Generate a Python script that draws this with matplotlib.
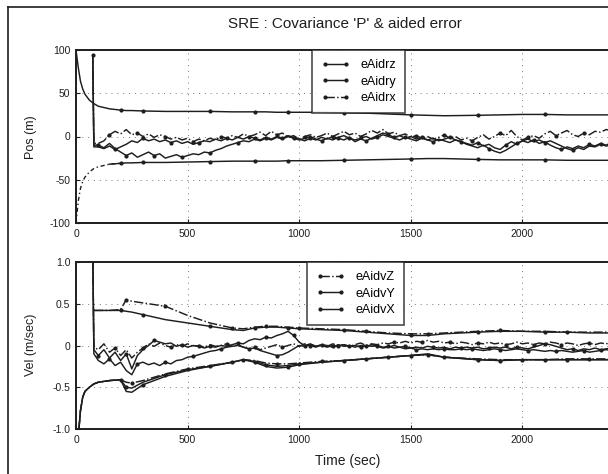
import numpy as np
import matplotlib
matplotlib.use('Agg')
import matplotlib.pyplot as plt
from matplotlib.lines import Line2D

plt.rcParams['font.family'] = ['Liberation Sans', 'DejaVu Sans']
plt.rcParams['axes.unicode_minus'] = False

# time base of the covariance envelopes (sec)
t_sig = [0, 10, 20, 30, 40, 60, 80, 100, 150, 200, 225, 250, 300, 400, 500, 600,
         700, 750, 800, 850, 900, 950, 1000, 1100, 1200, 1300, 1400, 1500, 1575,
         1650, 1800, 1900, 2000, 2100, 2200, 2300, 2400]

# position sigma envelopes (m)
pos_up = [100, 80, 64, 55, 49, 42, 38, 35, 32, 30.5, 30, 30, 29.5, 29, 29, 29,
          28.5, 28.5, 28.5, 28.5, 28, 28, 28, 28, 27.5, 27, 26, 25, 24.5,
          24, 24.5, 25, 25.5, 25.5, 25, 25, 25]
pos_lo = [-100, -75, -60, -52, -47, -41, -37, -35, -32, -31, -30.5, -30.5, -30, -30, -29.5, -29,
          -28.5, -28.5, -28.5, -28.5, -28.5, -28, -28, -28, -27.5, -27, -26.5, -26, -25.5,
          -25.5, -26.5, -27, -27, -27, -27.5, -27.5, -27.5]

# velocity sigma envelopes (m/sec)
nan = np.nan
vel_up_xy = [nan, nan, nan, nan, nan, nan, 0.42, 0.42, 0.42, 0.42, 0.41, 0.40, 0.37, 0.31, 0.27, 0.23,
             0.19, 0.18, 0.21, 0.22, 0.22, 0.21, 0.20, 0.19, 0.18, 0.16, 0.14, 0.12, 0.12,
             0.14, 0.16, 0.17, 0.17, 0.16, 0.16, 0.15, 0.15]
vel_up_z = [nan, nan, nan, nan, nan, nan, 0.42, 0.42, 0.42, 0.43, 0.55, 0.53, 0.51, 0.47, 0.36, 0.27,
            0.21, 0.20, 0.22, 0.23, 0.23, 0.22, 0.21, 0.20, 0.19, 0.17, 0.15, 0.14, 0.14,
            0.15, 0.17, 0.18, 0.17, 0.17, 0.16, 0.16, 0.16]
vel_lo_x = [-1.6, -1.1, -0.78, -0.62, -0.55, -0.50, -0.46, -0.44, -0.42, -0.41, -0.55, -0.56, -0.47, -0.37, -0.30, -0.25,
            -0.20, -0.17, -0.20, -0.25, -0.27, -0.26, -0.23, -0.20, -0.18, -0.16, -0.14, -0.12, -0.10,
            -0.14, -0.17, -0.18, -0.17, -0.17, -0.17, -0.17, -0.17]
vel_lo_y = [-1.6, -1.1, -0.78, -0.62, -0.55, -0.50, -0.46, -0.44, -0.42, -0.41, -0.50, -0.51, -0.44, -0.35, -0.29, -0.25,
            -0.20, -0.17, -0.19, -0.23, -0.25, -0.24, -0.22, -0.20, -0.18, -0.16, -0.14, -0.12, -0.11,
            -0.14, -0.17, -0.18, -0.17, -0.17, -0.17, -0.17, -0.17]
vel_lo_z = [-1.6, -1.1, -0.78, -0.62, -0.55, -0.50, -0.46, -0.44, -0.42, -0.41, -0.44, -0.45, -0.42, -0.34, -0.28, -0.24,
            -0.20, -0.17, -0.18, -0.21, -0.22, -0.22, -0.21, -0.19, -0.18, -0.16, -0.14, -0.12, -0.11,
            -0.14, -0.16, -0.17, -0.17, -0.17, -0.16, -0.16, -0.16]

# aided errors, first sample at 75 s then every 25 s from 100 to 2400
t_err = np.concatenate([[75, 80], np.arange(100, 2401, 25)])

err_rz = [94, -12,
          -12, -14, -11, -15, -12, -9, -5, -7, -2, -5, -3, -6, -4, -7, -5, -8,
          -6, -9, -7, -5, -6, -3, -5, -2, -4, -1, -3, 0, -2, -4, -1, -3,
          0, -2, 1, -1, -3, -5, -2, -4, -1, -3, 0, -2, -4, -1, -6, -3,
          -5, -2, 1, 4, 2, -1, 1, -2, 0, -3, -1, -4, -2, -5, -3, -1,
          -4, -6, -8, -10, -7, -11, -9, -13, -15, -10, -6, -9, -5, -7, -4, -8,
          -6, -10, -13, -15, -12, -14, -11, -13, -9, -11, -8, -10, -7]
err_ry = [94, -10,
          -10, -13, -8, -14, -18, -22, -19, -24, -21, -18, -22, -20, -25, -23, -21, -24,
          -22, -20, -21, -18, -19, -16, -14, -11, -9, -7, -5, -6, -3, -5, -2, -4,
          -1, -3, 0, -2, -4, -2, 0, -3, -5, -2, -4, -1, 1, -2, -4, -2,
          0, -3, -1, 2, 0, -2, -4, -1, -3, -5, -2, -4, -6, -3, -5, -7,
          -4, -6, -9, -11, -13, -10, -14, -17, -19, -16, -12, -8, -5, -3, -6, -4,
          -7, -5, -8, -11, -14, -16, -13, -15, -11, -12, -9, -11, -10]
err_rx = [94, -8,
          -8, -5, 2, 6, 3, 8, 2, 4, 0, 3, -1, 2, 0, -3, -1, -4,
          -2, -6, -3, -5, -2, -4, 0, -2, 1, -1, 3, 0, 2, 5, 1, 6,
          2, 4, -1, 1, -3, 0, 2, -1, 1, 4, 0, 3, 6, 2, 4, 0,
          3, 7, 4, 8, 3, 5, 1, 3, -1, 1, -2, 0, -3, -1, 2, -2,
          0, -4, -2, -5, -1, 2, -3, 0, 4, 1, 7, 0, -4, -1, 1, -2,
          3, 6, 1, 4, 7, 2, 0, 4, 2, 6, 5, 8, 7]

err_vz = [1.2, -0.02,
          -0.05, 0.02, -0.08, -0.03, -0.12, -0.05, -0.15, -0.08, -0.03, 0.02, -0.01, 0.03, 0.0, -0.02, 0.01, -0.01,
          0.02, -0.01, 0.0, -0.02, 0.01, -0.01, 0.0, 0.02, -0.01, 0.01, -0.02, -0.04, -0.02, -0.05, -0.03, -0.01,
          0.01, -0.02, 0.0, 0.02, -0.01, 0.02, 0.0, -0.02, 0.01, -0.01, 0.02, 0.0, 0.01, -0.01, 0.01, 0.03,
          0.0, 0.02, 0.01, 0.03, 0.02, 0.04, 0.03, 0.05, 0.03, 0.05, 0.04, 0.06, 0.04, 0.05, 0.03, 0.04,
          0.02, 0.04, 0.03, 0.01, 0.03, 0.02, 0.04, 0.02, 0.03, 0.01, 0.02, 0.04, 0.02, 0.03, 0.01, 0.03,
          0.02, 0.04, 0.03, 0.01, 0.03, 0.02, 0.0, 0.02, 0.03, 0.01, 0.03, 0.02, 0.04]
err_vy = [1.2, -0.05,
          -0.12, -0.05, -0.15, -0.08, -0.18, -0.10, -0.28, -0.12, -0.05, 0.0, 0.06, 0.04, 0.02, 0.03, -0.01, 0.01,
          -0.02, 0.0, -0.01, -0.03, -0.01, -0.02, 0.0, -0.01, 0.01, 0.03, 0.02, 0.06, 0.08, 0.07, 0.10, 0.09,
          0.12, 0.14, 0.17, 0.12, 0.04, 0.0, 0.02, -0.01, 0.01, 0.0, -0.02, 0.01, -0.01, 0.0, -0.02, 0.0,
          -0.01, 0.01, -0.01, -0.03, -0.02, 0.0, -0.02, -0.01, -0.03, -0.02, -0.03, -0.01, -0.02, -0.03, -0.02, -0.04,
          -0.02, -0.03, -0.02, -0.03, -0.02, -0.04, -0.03, -0.02, -0.03, -0.02, -0.04, -0.02, -0.03, -0.04, -0.02, 0.0,
          0.02, 0.01, -0.01, -0.03, -0.05, -0.04, -0.06, -0.04, -0.05, -0.03, -0.05, -0.04, -0.03]
err_vx = [1.2, -0.10,
          -0.18, -0.22, -0.16, -0.24, -0.20, -0.30, -0.35, -0.22, -0.20, -0.23, -0.21, -0.24, -0.20, -0.22, -0.18, -0.17,
          -0.14, -0.13, -0.11, -0.09, -0.07, -0.06, -0.04, -0.02, -0.01, 0.0, -0.02, -0.04, -0.03, -0.06, -0.08, -0.10,
          -0.12, -0.11, -0.08, -0.04, 0.0, -0.01, 0.01, -0.01, 0.0, -0.02, 0.0, -0.01, 0.01, -0.01, 0.0, -0.02,
          0.0, -0.01, 0.0, -0.02, -0.01, -0.03, -0.02, -0.04, -0.03, -0.05, -0.04, -0.05, -0.04, -0.05, -0.04, -0.05,
          -0.05, -0.04, -0.05, -0.04, -0.05, -0.06, -0.05, -0.04, -0.05, -0.06, -0.05, -0.04, -0.05, -0.06, -0.05, -0.06,
          -0.07, -0.06, -0.07, -0.06, -0.07, -0.08, -0.07, -0.06, -0.08, -0.07, -0.06, -0.05, -0.06]

pos_ticks = [-100, -50, 0, 50, 100]
pos_labels = ['-100', '-50', '0', '50', '100']
vel_ticks = [-1.0, -0.5, 0, 0.5, 1.0]
vel_labels = ['-1.0', '-0.5', '0', '0.5', '1.0']
x_ticks = [0, 500, 1000, 1500, 2000]

W, H = 608, 474
ink = '#1e1e1e'
fig = plt.figure(figsize=(W / 100, H / 100), dpi=100)

# scanned page frame (left and top edges only)
fig.add_artist(Line2D([8 / W, 8 / W], [0, 1 - 7 / H], color=ink, lw=1.2))
fig.add_artist(Line2D([8 / W, 1], [1 - 7 / H, 1 - 7 / H], color=ink, lw=1.2))

# axes run off the right edge of the scan
ax1 = fig.add_axes([76 / W, 1 - 223 / H, 558 / W, 173 / H])
ax2 = fig.add_axes([76 / W, 1 - 429 / H, 558 / W, 167 / H])

sty = dict(color=ink, lw=1.05, marker='.', ms=4)

# position panel
ax1.plot(t_err, err_rz, label='eAidrz', markevery=5, **sty)
ax1.plot(t_err, err_ry, label='eAidry', markevery=(2, 5), **sty)
ax1.plot(t_err, err_rx, label='eAidrx', ls='-.', markevery=(4, 5), **sty)
ax1.plot(t_sig, pos_up, markevery=(9, 3), **sty)
ax1.plot(t_sig[8:], pos_lo[8:], markevery=(1, 3), **sty)
ax1.plot(t_sig[:10], pos_lo[:10], color=ink, lw=1.0, ls=(0, (3, 2, 1, 2)))
ax1.set_ylim(-100, 100)
ax1.set_yticks(pos_ticks)
ax1.set_yticklabels(pos_labels)

# velocity panel
ax2.plot(t_err, err_vz, label='eAidvZ', ls='-.', markevery=5, **sty)
ax2.plot(t_err, err_vy, label='eAidvY', markevery=(2, 5), **sty)
ax2.plot(t_err, err_vx, label='eAidvX', markevery=(4, 5), **sty)
ax2.plot(t_sig, vel_up_xy, markevery=(9, 3), **sty)
ax2.plot(t_sig, vel_up_z, ls='-.', markevery=(10, 3), **sty)
ax2.plot(t_sig, vel_lo_x, markevery=(9, 3), **sty)
ax2.plot(t_sig, vel_lo_y, markevery=(10, 3), **sty)
ax2.plot(t_sig, vel_lo_z, ls='-.', markevery=(11, 3), **sty)
ax2.set_ylim(-1.0, 1.0)
ax2.set_yticks(vel_ticks)
ax2.set_yticklabels(vel_labels)

for ax, anchor in ((ax1, 236 / 558), (ax2, 231 / 558)):
    ax.set_xlim(0, 2500)
    ax.set_xticks(x_ticks)
    ax.grid(True, color='#777777', ls=(0, (1, 5)), lw=0.7)
    ax.tick_params(direction='in', length=3, width=0.8, labelsize=7.5, colors=ink, pad=4)
    for s in ax.spines.values():
        s.set_linewidth(1.4)
        s.set_color(ink)
    leg = ax.legend(loc='upper left', bbox_to_anchor=(anchor, 1.0), borderaxespad=0,
                    fontsize=9, frameon=True, fancybox=False, numpoints=2,
                    handlelength=2.3, handletextpad=0.8, labelspacing=0.34,
                    borderpad=0.75, edgecolor=ink)
    leg.get_frame().set_linewidth(1.2)

fig.text(345 / W, 1 - 24 / H, "SRE : Covariance 'P' & aided error",
         ha='center', va='center', fontsize=11, color=ink)
fig.text(348 / W, 1 - 461 / H, 'Time (sec)', ha='center', va='center', fontsize=10, color=ink)
fig.text(31 / W, 1 - 137 / H, 'Pos (m)', rotation=90, ha='center', va='center', fontsize=9, color=ink)
fig.text(31 / W, 1 - 345 / H, 'Vel (m/sec)', rotation=90, ha='center', va='center', fontsize=9, color=ink)

fig.savefig('out.png', dpi=100)
